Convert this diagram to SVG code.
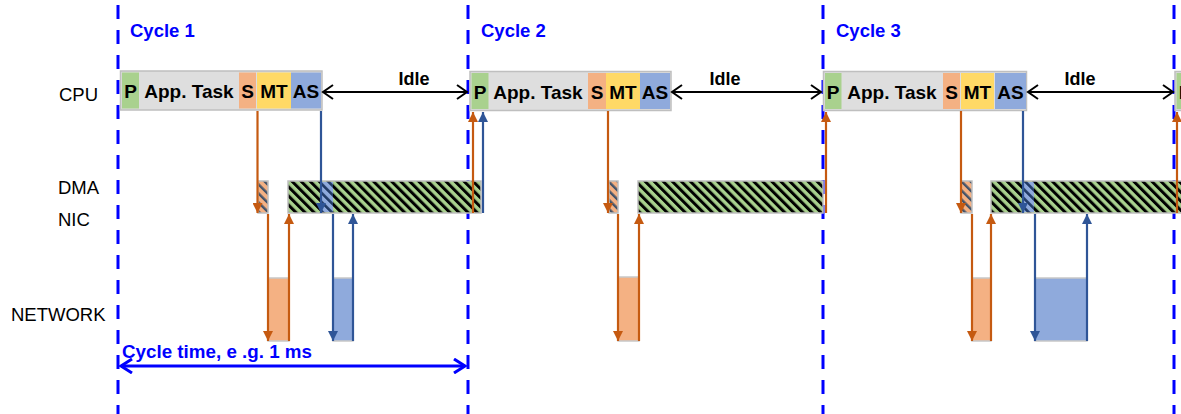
<svg xmlns="http://www.w3.org/2000/svg" width="1181" height="414" viewBox="0 0 1181 414">
<style>
text{font-family:"Liberation Sans",Arial,sans-serif}
.lbl{font-size:18.5px;fill:#000}
.seg{font-size:19px;font-weight:bold;fill:#000;text-anchor:middle}
.cyc{font-size:18.5px;font-weight:bold;fill:#0000ff}
.idle{font-size:18px;font-weight:bold;fill:#000;text-anchor:middle}
.cline{stroke:#0000ff;stroke-width:3;stroke-dasharray:14 11;fill:none}
.box{fill:#dedede;stroke:#bfbfbf;stroke-width:1.5}
.p{fill:#a9d18e}.s{fill:#f4b183}.mt{fill:#ffd966}.as{fill:#8faadc}
.dma{stroke:#bfbfbf;stroke-width:1.5}
.net{stroke:#c8c8c8;stroke-width:1.5}
.or{stroke:#c55a11;stroke-width:2.2;fill:none;marker-end:url(#aO)}
.bl{stroke:#2f5597;stroke-width:2.2;fill:none;marker-end:url(#aB)}
.idlearr{stroke:#000;stroke-width:2;fill:none;marker-start:url(#aK);marker-end:url(#aK)}
.ctarr{stroke:#0000ff;stroke-width:3;fill:none;marker-start:url(#aC);marker-end:url(#aC)}
</style>
<defs>
<pattern id="hG" width="6.4" height="6.4" patternUnits="userSpaceOnUse" patternTransform="rotate(-45)">
<rect width="6.4" height="6.4" fill="#a9d18e"/><rect width="3" height="6.4" fill="#000"/>
</pattern>
<pattern id="hS" width="6.4" height="6.4" patternUnits="userSpaceOnUse" patternTransform="rotate(-45)">
<rect width="6.4" height="6.4" fill="#f4b183"/><rect width="2.4" height="6.4" fill="#44546a"/>
</pattern>
<pattern id="hB" width="6.4" height="6.4" patternUnits="userSpaceOnUse" patternTransform="rotate(-45)">
<rect width="6.4" height="6.4" fill="#8faadc"/><rect width="2.6" height="6.4" fill="#1f3864"/>
</pattern>
<marker id="aO" markerUnits="userSpaceOnUse" markerWidth="10" markerHeight="10" refX="10" refY="5" orient="auto"><path d="M0,0 L10,5 L0,10 z" fill="#c55a11"/></marker>
<marker id="aB" markerUnits="userSpaceOnUse" markerWidth="10" markerHeight="10" refX="10" refY="5" orient="auto"><path d="M0,0 L10,5 L0,10 z" fill="#2f5597"/></marker>
<marker id="aK" markerUnits="userSpaceOnUse" markerWidth="14" markerHeight="16" refX="11" refY="8" orient="auto-start-reverse"><path d="M1,1 L11,8 L1,15" fill="none" stroke="#000" stroke-width="2"/></marker>
<marker id="aC" markerUnits="userSpaceOnUse" markerWidth="14" markerHeight="16" refX="12" refY="8" orient="auto-start-reverse"><path d="M1,1 L12,8 L1,15" fill="none" stroke="#0000ff" stroke-width="3"/></marker>
</defs>

<g id="row-labels">
<text class="lbl" x="59" y="101">CPU</text>
<text class="lbl" x="58" y="194">DMA</text>
<text class="lbl" x="58" y="226">NIC</text>
<text class="lbl" x="11" y="321">NETWORK</text>
</g>

<g id="cycle-lines">
<line class="cline" x1="118" y1="5" x2="118" y2="414"/>
<line class="cline" x1="468" y1="5" x2="468" y2="414"/>
<line class="cline" x1="823" y1="5" x2="823" y2="414"/>
<line class="cline" x1="1174" y1="5" x2="1174" y2="414"/>
<text class="cyc" x="130" y="37">Cycle 1</text>
<text class="cyc" x="481" y="37">Cycle 2</text>
<text class="cyc" x="836" y="37">Cycle 3</text>
</g>

<g id="cpu-cycle1">
<rect class="box" x="120.5" y="71" width="201.5" height="39"/>
<rect class="p" x="122" y="72.5" width="17" height="36"/>
<rect class="s" x="239" y="72.5" width="17" height="36"/>
<rect class="mt" x="257" y="72.5" width="34" height="36"/>
<rect class="as" x="291" y="72.5" width="30" height="36"/>
<text class="seg" x="130.5" y="98">P</text>
<text class="seg" x="189" y="98">App. Task</text>
<text class="seg" x="247.5" y="98">S</text>
<text class="seg" x="274" y="98">MT</text>
<text class="seg" x="306" y="98">AS</text>
</g>

<g id="cpu-cycle2">
<rect class="box" x="470" y="71.5" width="201" height="39"/>
<rect class="p" x="471.5" y="73" width="17" height="36"/>
<rect class="s" x="588" y="73" width="18" height="36"/>
<rect class="mt" x="606" y="73" width="34" height="36"/>
<rect class="as" x="640" y="73" width="30" height="36"/>
<text class="seg" x="480" y="98.5">P</text>
<text class="seg" x="538" y="98.5">App. Task</text>
<text class="seg" x="597" y="98.5">S</text>
<text class="seg" x="623" y="98.5">MT</text>
<text class="seg" x="655" y="98.5">AS</text>
</g>

<g id="cpu-cycle3">
<rect class="box" x="823.5" y="71.5" width="203" height="39"/>
<rect class="p" x="825" y="73" width="16.5" height="36"/>
<rect class="s" x="943" y="73" width="17" height="36"/>
<rect class="mt" x="961" y="73" width="33" height="36"/>
<rect class="as" x="995" y="73" width="31" height="36"/>
<text class="seg" x="833" y="98.5">P</text>
<text class="seg" x="892" y="98.5">App. Task</text>
<text class="seg" x="951.5" y="98.5">S</text>
<text class="seg" x="977.5" y="98.5">MT</text>
<text class="seg" x="1010.5" y="98.5">AS</text>
</g>

<g id="cpu-cycle4">
<rect class="box" x="1175" y="71.5" width="20" height="39"/>
<rect class="p" x="1176.5" y="73" width="17" height="36"/>
<text class="seg" x="1185" y="98.5">P</text>
</g>

<g id="idle-labels">
<text class="idle" x="414" y="85">Idle</text>
<text class="idle" x="725" y="85">Idle</text>
<text class="idle" x="1080" y="85">Idle</text>
</g>

<g id="dma-cycle1">
<rect class="dma" x="258" y="181" width="10" height="32" fill="url(#hS)"/>
<rect class="dma" x="288" y="181" width="193" height="32" fill="url(#hG)"/>
<rect x="320" y="182" width="13" height="30" fill="url(#hB)"/>
</g>
<g id="dma-cycle2">
<rect class="dma" x="609" y="181" width="9" height="32" fill="url(#hS)"/>
<rect class="dma" x="638" y="181" width="185" height="32" fill="url(#hG)"/>
</g>
<g id="dma-cycle3">
<rect class="dma" x="961" y="181" width="11" height="32" fill="url(#hS)"/>
<rect class="dma" x="991" y="181" width="200" height="32" fill="url(#hG)"/>
<rect x="1023" y="182" width="11" height="30" fill="url(#hB)"/>
</g>

<g id="network-cycle1">
<rect class="net" x="268" y="278" width="21" height="63" fill="#f4b183"/>
<rect class="net" x="333" y="278" width="20" height="63" fill="#8faadc"/>
</g>
<g id="network-cycle2">
<rect class="net" x="618" y="277" width="21" height="64" fill="#f4b183"/>
</g>
<g id="network-cycle3">
<rect class="net" x="972" y="278" width="19" height="63" fill="#f4b183"/>
<rect class="net" x="1035" y="278" width="52" height="63" fill="#8faadc"/>
</g>

<g id="connectors">
<line class="idlearr" x1="323" y1="92" x2="467" y2="92"/>
<line class="idlearr" x1="672" y1="92" x2="821" y2="92"/>
<line class="idlearr" x1="1028" y1="92" x2="1173" y2="92"/>

<line class="or" x1="257.5" y1="111" x2="257.5" y2="213"/>
<line class="bl" x1="321" y1="111" x2="321" y2="213"/>
<line class="or" x1="268" y1="214" x2="268" y2="341"/>
<line class="or" x1="289" y1="341" x2="289" y2="214"/>
<line class="bl" x1="333" y1="214" x2="333" y2="341"/>
<line class="bl" x1="353" y1="341" x2="353" y2="214"/>
<line class="or" x1="473" y1="213" x2="473" y2="112"/>
<line class="bl" x1="483" y1="213" x2="483" y2="112"/>

<line class="or" x1="608" y1="111" x2="608" y2="213"/>
<line class="or" x1="618" y1="214" x2="618" y2="341"/>
<line class="or" x1="639" y1="341" x2="639" y2="214"/>
<line class="or" x1="826" y1="213" x2="826" y2="112"/>

<line class="or" x1="961" y1="111" x2="961" y2="213"/>
<line class="bl" x1="1023" y1="111" x2="1023" y2="213"/>
<line class="or" x1="972" y1="214" x2="972" y2="341"/>
<line class="or" x1="991" y1="341" x2="991" y2="214"/>
<line class="bl" x1="1035" y1="214" x2="1035" y2="341"/>
<line class="bl" x1="1087" y1="341" x2="1087" y2="214"/>
<line class="or" x1="1177" y1="213" x2="1177" y2="112"/>

<line class="ctarr" x1="121" y1="366" x2="465" y2="366"/>
</g>

<g id="cycle-time">
<text class="cyc" x="122" y="358" style="font-size:18.8px">Cycle time, e .g. 1 ms</text>
</g>
</svg>
